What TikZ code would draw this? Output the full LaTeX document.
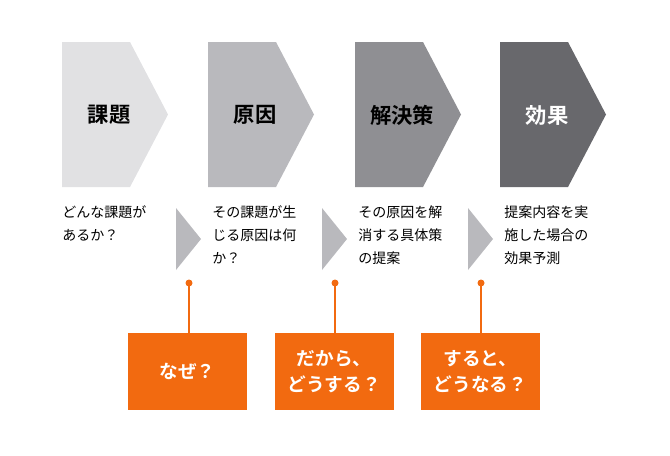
\documentclass[tikz,border=0pt]{standalone}
\usepackage{fontspec}
\setmainfont{Noto Sans CJK JP}
\newfontfamily\jpb{Noto Sans CJK JP Bold}
\definecolor{c1}{HTML}{E1E1E3}
\definecolor{c2}{HTML}{B9B9BD}
\definecolor{c3}{HTML}{8F8F93}
\definecolor{c4}{HTML}{68686C}
\definecolor{tri}{HTML}{B9B9BD}
\definecolor{org}{HTML}{F26A10}
\begin{document}
\begin{tikzpicture}[x=0.75pt,y=-0.75pt,
  title/.style={font=\jpb\fontsize{16}{18}\selectfont},
  body/.style={font=\fontsize{10.5}{17.3}\selectfont,align=left,anchor=north west,inner sep=0pt},
  obox/.style={fill=org,minimum width=89.25pt,minimum height=57.75pt,inner sep=0pt,text=white,align=center,font=\jpb\fontsize{14}{19}\selectfont},
  conn/.style={draw=org,line width=1.2pt}]
\useasboundingbox (0,0) rectangle (670,455);
\foreach \x/\c/\t/\n/\tc in {62/c1/課題/p1/black,208/c2/原因/p2/black,355/c3/解決策/p3/black,500/c4/効果/p4/white}{
  \fill[\c] (\x,42) -- (\x+68,42) -- (\x+106,114.5) -- (\x+68,187) -- (\x,187) -- cycle;
  \node[title,text=\tc] (\n) at (\x+47,115) {\t};
}
\foreach \x in {176,322,468}{
  \fill[tri] (\x,208) -- (\x+25,239) -- (\x,270) -- cycle;
}
\node[body] (d1) at (62,205) {どんな課題が\\あるか？};
\node[body] (d2) at (212,205) {その課題が生\\じる原因は何\\か？};
\node[body] (d3) at (358,205) {その原因を解\\消する具体策\\の提案};
\node[body] (d4) at (504,205) {提案内容を実\\施した場合の\\効果予測};
\node[obox] (b1) at (187.5,371.5) {なぜ？};
\node[obox] (b2) at (334,371.5) {だから、\\どうする？};
\node[obox] (b3) at (480.5,371.5) {すると、\\どうなる？};
\foreach \x/\b in {189/b1,335/b2,481/b3}{
  \coordinate (k\b) at (\x,283);
  \fill[org] (k\b) circle (3.5);
  \draw[conn] (k\b) -- (k\b |- \b.north);
}
\end{tikzpicture}
\end{document}
